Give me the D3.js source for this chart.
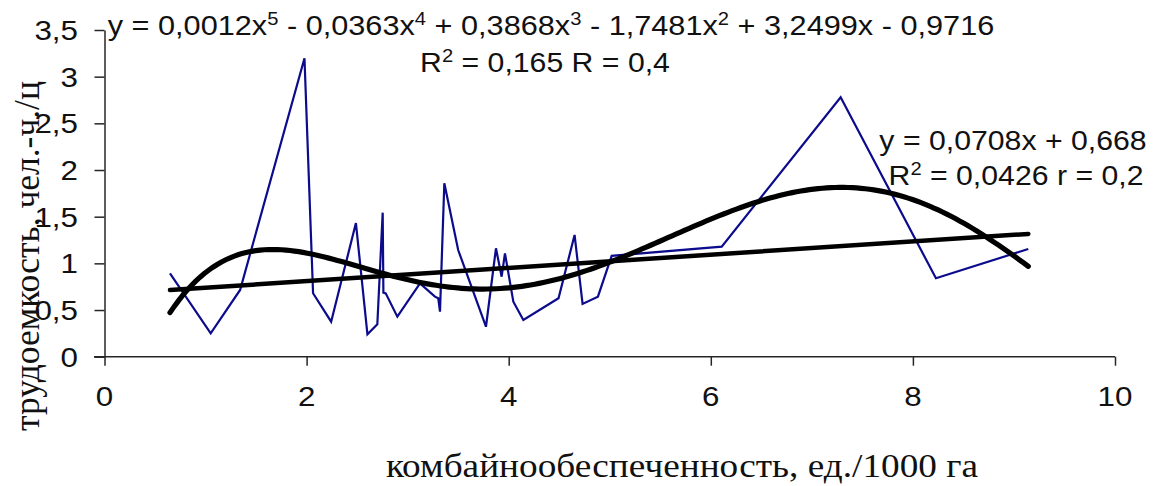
<!DOCTYPE html>
<html><head><meta charset="utf-8">
<script src="https://cdn.jsdelivr.net/npm/d3@7"></script>
<style>html,body{margin:0;padding:0;background:#fff;}svg{display:block;}</style>
</head><body>
<svg id="chart" width="1159" height="486"></svg>
<script>
// ---- data ----
const xValues = [0.648,1.051,1.342,1.979,2.064,2.243,2.488,2.602,2.700,2.753,2.760,2.783,2.898,3.122,3.270,3.303,3.320,3.363,3.500,3.775,3.874,3.930,3.963,4.046,4.145,4.493,4.652,4.731,4.883,5.019,6.108,7.285,8.228,9.142];
const yValues = [0.893,0.250,0.715,3.197,0.680,0.375,1.432,0.240,0.347,1.543,0.686,0.679,0.429,0.786,0.643,0.626,0.482,1.858,1.143,0.321,1.161,0.857,1.107,0.589,0.393,0.626,1.304,0.565,0.643,1.080,1.179,2.779,0.840,1.154];
const xTicks = [0,2,4,6,8,10];
const yTicks = [0,0.5,1,1.5,2,2.5,3,3.5];
const linCoef = [0.668, 0.0708]; // intercept, slope
const polyDegree = 5;
const polyLabel1 = [["y = 0,0012x",0],["5",1],[" - 0,0363x",0],["4",1],[" + 0,3868x",0],["3",1],[" - 1,7481x",0],["2",1],[" + 3,2499x - 0,9716",0]];
const polyLabel2 = [["R",0],["2",1],[" = 0,165 R = 0,4",0]];
const linLabel1 = [["y = 0,0708x + 0,668",0]];
const linLabel2 = [["R",0],["2",1],[" = 0,0426 r = 0,2",0]];
const xTitle = "комбайнообеспеченность, ед./1000 га";
const yTitle = "трудоемкость, чел.-ч./ц";

// ---- layout ----
const svg = d3.select("#chart");
svg.append("rect").attr("width",1159).attr("height",486).attr("fill","#fff");
const x = d3.scaleLinear().domain([0,10]).range([104.5,1115]);
const y = d3.scaleLinear().domain([0,3.5]).range([356.7,30]);
const SX = 1.12;
const fmt = v => String(v).replace(".", ",");
const axisColor = "#262626";

// axes
const gx = svg.append("g").attr("transform","translate(0,356.7)")
  .call(d3.axisBottom(x).tickValues(xTicks).tickSize(9).tickSizeOuter(0).tickFormat(""));
const gy = svg.append("g").attr("transform","translate(104.5,0)")
  .call(d3.axisLeft(y).tickValues(yTicks).tickSize(10).tickSizeOuter(0).tickFormat(""));
[gx,gy].forEach(g=>{
  g.selectAll("path,line").attr("stroke",axisColor).attr("stroke-width",1.5);
});
gx.select("path.domain").attr("d","M94,0H1115");

// tick labels
svg.append("g").selectAll("text").data(xTicks).join("text")
  .attr("transform",d=>`translate(${x(d)},406) scale(${SX},1)`)
  .attr("text-anchor","middle").attr("font-family","Liberation Sans, Arial, sans-serif")
  .attr("font-size",28).attr("fill","#111").text(fmt);
svg.append("g").selectAll("text").data(yTicks).join("text")
  .attr("transform",d=>`translate(78,${y(d)+10}) scale(${SX},1)`)
  .attr("text-anchor","end").attr("font-family","Liberation Sans, Arial, sans-serif")
  .attr("font-size",28).attr("fill","#111").text(fmt);

// data line
const pts = xValues.map((v,i)=>[v,yValues[i]]);
svg.append("path").datum(pts)
  .attr("fill","none").attr("stroke","#0b0b8c").attr("stroke-width",2.2).attr("stroke-linejoin","miter")
  .attr("d", d3.line().x(d=>x(d[0])).y(d=>y(d[1])));

// polynomial least squares
function polyFit(xs, ys, deg){
  const n = deg+1;
  const A = Array.from({length:n},()=>new Array(n+1).fill(0));
  for(let k=0;k<xs.length;k++){
    const p=[];let v=1;for(let j=0;j<2*n;j++){p.push(v);v*=xs[k];}
    for(let i=0;i<n;i++){for(let j=0;j<n;j++)A[i][j]+=p[i+j];A[i][n]+=p[i]*ys[k];}
  }
  for(let c=0;c<n;c++){
    let m=c;for(let r=c+1;r<n;r++)if(Math.abs(A[r][c])>Math.abs(A[m][c]))m=r;
    [A[c],A[m]]=[A[m],A[c]];
    for(let r=0;r<n;r++){if(r===c)continue;const f=A[r][c]/A[c][c];for(let j=c;j<=n;j++)A[r][j]-=f*A[c][j];}
  }
  return A.map((row,i)=>row[n]/row[i]);
}
const coef = polyFit(xValues,yValues,polyDegree);
const polyF = v => coef.reduce((s,c,i)=>s+c*Math.pow(v,i),0);
const xmin = d3.min(xValues), xmax = d3.max(xValues);
const curve = d3.range(0,201).map(i=>{const v=xmin+(xmax-xmin)*i/200;return [v,polyF(v)];});
svg.append("path").datum(curve).attr("fill","none").attr("stroke","#000").attr("stroke-width",5.2)
  .attr("stroke-linecap","round")
  .attr("d", d3.line().x(d=>x(d[0])).y(d=>y(d[1])));
const linPts = [xmin,xmax].map(v=>[v,linCoef[0]+linCoef[1]*v]);
svg.append("path").datum(linPts).attr("fill","none").attr("stroke","#000").attr("stroke-width",4.5)
  .attr("stroke-linecap","round")
  .attr("d", d3.line().x(d=>x(d[0])).y(d=>y(d[1])));

// labels
function richText(parts, cx, by, fs){
  const t = svg.append("text").attr("transform",`translate(${cx},${by}) scale(${SX},1)`)
    .attr("text-anchor","middle").attr("font-family","Liberation Sans, Arial, sans-serif")
    .attr("font-size",fs).attr("fill","#111");
  let up=false;
  parts.forEach(([s,sup])=>{
    const ts = t.append("tspan").text(s);
    if(sup===1){ts.attr("font-size",18).attr("dy",-10);up=true;}
    else if(up){ts.attr("dy",10);up=false;}
  });
}
richText(polyLabel1,551,35,27.4);
richText(polyLabel2,545,72,27);
richText(linLabel1,1013,150,27);
richText(linLabel2,1016,185,27);

// titles
svg.append("text").attr("transform",`translate(682,477) scale(${SX},1)`)
  .attr("text-anchor","middle").attr("font-family","Liberation Serif, Times New Roman, serif")
  .attr("font-size",33.3).attr("fill","#111").text(xTitle);
svg.append("text").attr("transform",`translate(39,256) scale(1.03,1) rotate(-90)`)
  .attr("text-anchor","middle").attr("font-family","Liberation Serif, Times New Roman, serif")
  .attr("font-size",35.5).attr("fill","#111").text(yTitle);
</script>
</body></html>
